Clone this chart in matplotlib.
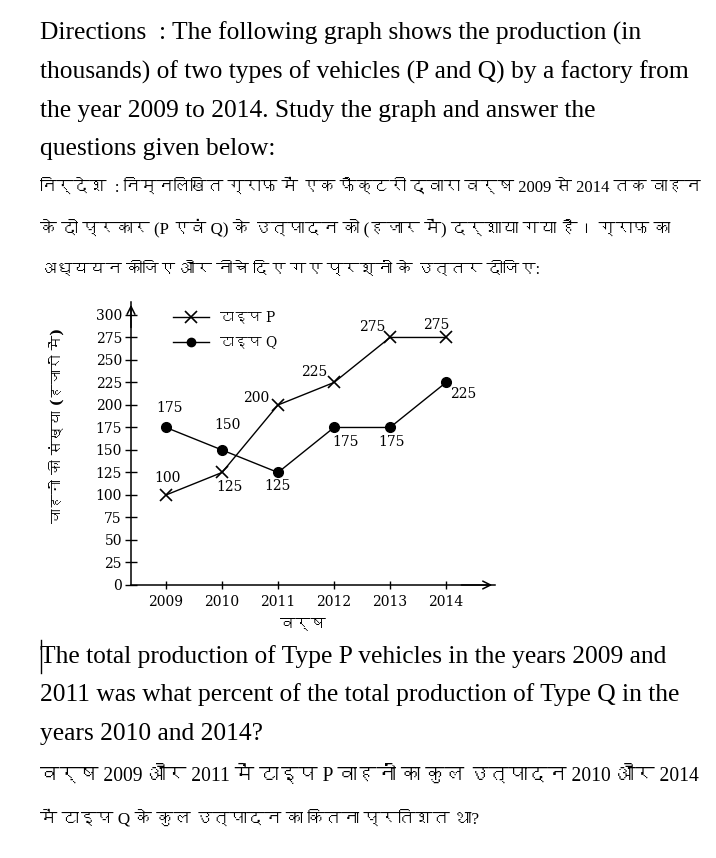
import numpy as np
import matplotlib
matplotlib.use('Agg')
import matplotlib.pyplot as plt
from matplotlib import font_manager
from matplotlib.ft2font import FT2Font
from matplotlib.lines import Line2D

# data
years = ['2009', '2010', '2011', '2012', '2013', '2014']
type_p = [100, 125, 200, 225, 275, 275]
type_q = [175, 150, 125, 175, 175, 225]
y_ticks = [0, 25, 50, 75, 100, 125, 150, 175, 200, 225, 250, 275, 300]

# label offsets in pixels (dx, dy up)
p_offsets = [(2, 17), (8, -15), (-22, 7), (-20, 10), (-18, 10), (-10, 12)]
q_offsets = [(4, 19), (6, 25), (0, -14), (12, -15), (2, -15), (17, -12)]

top_text = [
    'Directions  : The following graph shows the production (in',
    'thousands) of two types of vehicles (P and Q) by a factory from',
    'the year 2009 to 2014. Study the graph and answer the',
    'questions given below:',
]
top_hindi = [
    'निर्देश  : निम्नलिखित ग्राफ में एक फैक्टरी द्वारा वर्ष 2009 से 2014 तक वाहन',
    'के दो प्रकार (P एवं Q) के उत्पादन को (हजार में) दर्शाया गया है। ग्राफ का',
    'अध्ययन कीजिए और नीचे दिए गए प्रश्नों के उत्तर दीजिए:',
]
top_hindi_right = [700, 672, 540]
bottom_text = [
    'The total production of Type P vehicles in the years 2009 and',
    '2011 was what percent of the total production of Type Q in the',
    'years 2010 and 2014?',
]
bottom_hindi = [
    'वर्ष 2009 और 2011 में टाइप P वाहनों का कुल उत्पादन 2010 और 2014',
    'में टाइप Q के कुल उत्पादन का कितना प्रतिशत था?',
]
bottom_hindi_right = [698, 478]


def find_font(cp):
    for f in font_manager.fontManager.ttflist:
        try:
            if cp in FT2Font(f.fname).get_charmap():
                return f.name
        except Exception:
            pass
    return None


hindi_font = find_font(0x0915)
text_family = ['Liberation Serif'] + ([hindi_font] if hindi_font else [])
chart_family = ['DejaVu Serif'] + ([hindi_font] if hindi_font else [])

W, H = 716, 858
fig = plt.figure(figsize=(W / 100, H / 100), dpi=100)
renderer = fig.canvas.get_renderer()


def fx(x):
    return x / W


def fy(y):
    return 1 - y / H


def fit_text(x, y, s, right, size=17):
    # shrink/grow the line so it ends where the reference line ends
    t = fig.text(fx(x), fy(y), s, fontsize=size, family=text_family, va='baseline')
    w = t.get_window_extent(renderer).width
    t.set_fontsize(size * (right - x) / w)
    return t


# question text
for i, line in enumerate(top_text):
    fig.text(fx(40), fy(40 + i * 38.5), line, fontsize=18.4, family=text_family, va='baseline')
for i, line in enumerate(top_hindi):
    fit_text(40, 192 + i * 41, line, top_hindi_right[i])
for i, line in enumerate(bottom_text):
    fig.text(fx(40), fy(663 + i * 38.5), line, fontsize=18.4, family=text_family, va='baseline')
for i, line in enumerate(bottom_hindi):
    fit_text(40, 781 + i * 42, line, bottom_hindi_right[i])
fig.add_artist(Line2D([fx(40.5), fx(40.5)], [fy(640), fy(673)], color='black', lw=1))

# chart
x0, x1, ytop, y0 = 131, 495, 302, 585
ax = fig.add_axes([fx(x0), fy(y0), (x1 - x0) / W, (y0 - ytop) / H])
x = np.arange(len(years))
ax.set_xlim(-0.625, 5.875)
ax.set_ylim(0, 314.4)

ax.plot(x, type_p, color='black', lw=1, marker='x', ms=8, mew=1.2)
ax.plot(x, type_q, color='black', lw=1, marker='o', ms=7)

for i, v in enumerate(type_p):
    dx, dy = p_offsets[i]
    ax.annotate(str(v), (x[i], v), xytext=(dx * 0.72, dy * 0.72), textcoords='offset points',
                ha='center', va='center', fontsize=10, family=chart_family)
for i, v in enumerate(type_q):
    dx, dy = q_offsets[i]
    ax.annotate(str(v), (x[i], v), xytext=(dx * 0.72, dy * 0.72), textcoords='offset points',
                ha='center', va='center', fontsize=10, family=chart_family)

for s in ['top', 'right']:
    ax.spines[s].set_visible(False)
for s in ['left', 'bottom']:
    ax.spines[s].set_linewidth(1.1)

ax.set_yticks(y_ticks)
ax.set_yticklabels([str(t) for t in y_ticks], fontsize=10, family=chart_family)
ax.set_xticks(x)
ax.set_xticklabels(years, fontsize=10, family=chart_family)
ax.tick_params(axis='y', direction='inout', length=8, width=1, pad=2.5)
ax.tick_params(axis='x', direction='inout', length=6, width=1, pad=4)

# axis arrows
ax.annotate('', xy=(0, 1.0), xytext=(0, 0.9), xycoords='axes fraction',
            arrowprops=dict(arrowstyle='->', lw=1.1, mutation_scale=14))
ax.annotate('', xy=(1.0, 0), xytext=(0.9, 0), xycoords='axes fraction',
            arrowprops=dict(arrowstyle='->', lw=1.1, mutation_scale=14))

ax.set_ylabel('वाहनों की संख्या (हजारों में)', fontsize=10.5, family=chart_family,
              fontweight='bold')
ax.yaxis.set_label_coords(-0.181, 0.565)
ax.set_xlabel('वर्ष', fontsize=11, family=chart_family, fontweight='bold')
ax.xaxis.set_label_coords(0.473, -0.115)

handles = [Line2D([], [], color='black', lw=1, marker='x', ms=8, mew=1.2),
           Line2D([], [], color='black', lw=1, marker='o', ms=6)]
ax.legend(handles, ['टाइप P', 'टाइप Q'], loc='upper left', bbox_to_anchor=(fx(160), fy(298)),
          bbox_transform=fig.transFigure, frameon=False, handlelength=2.6, labelspacing=0.8,
          prop={'family': chart_family, 'size': 10})

fig.savefig('out.png', dpi=100)
